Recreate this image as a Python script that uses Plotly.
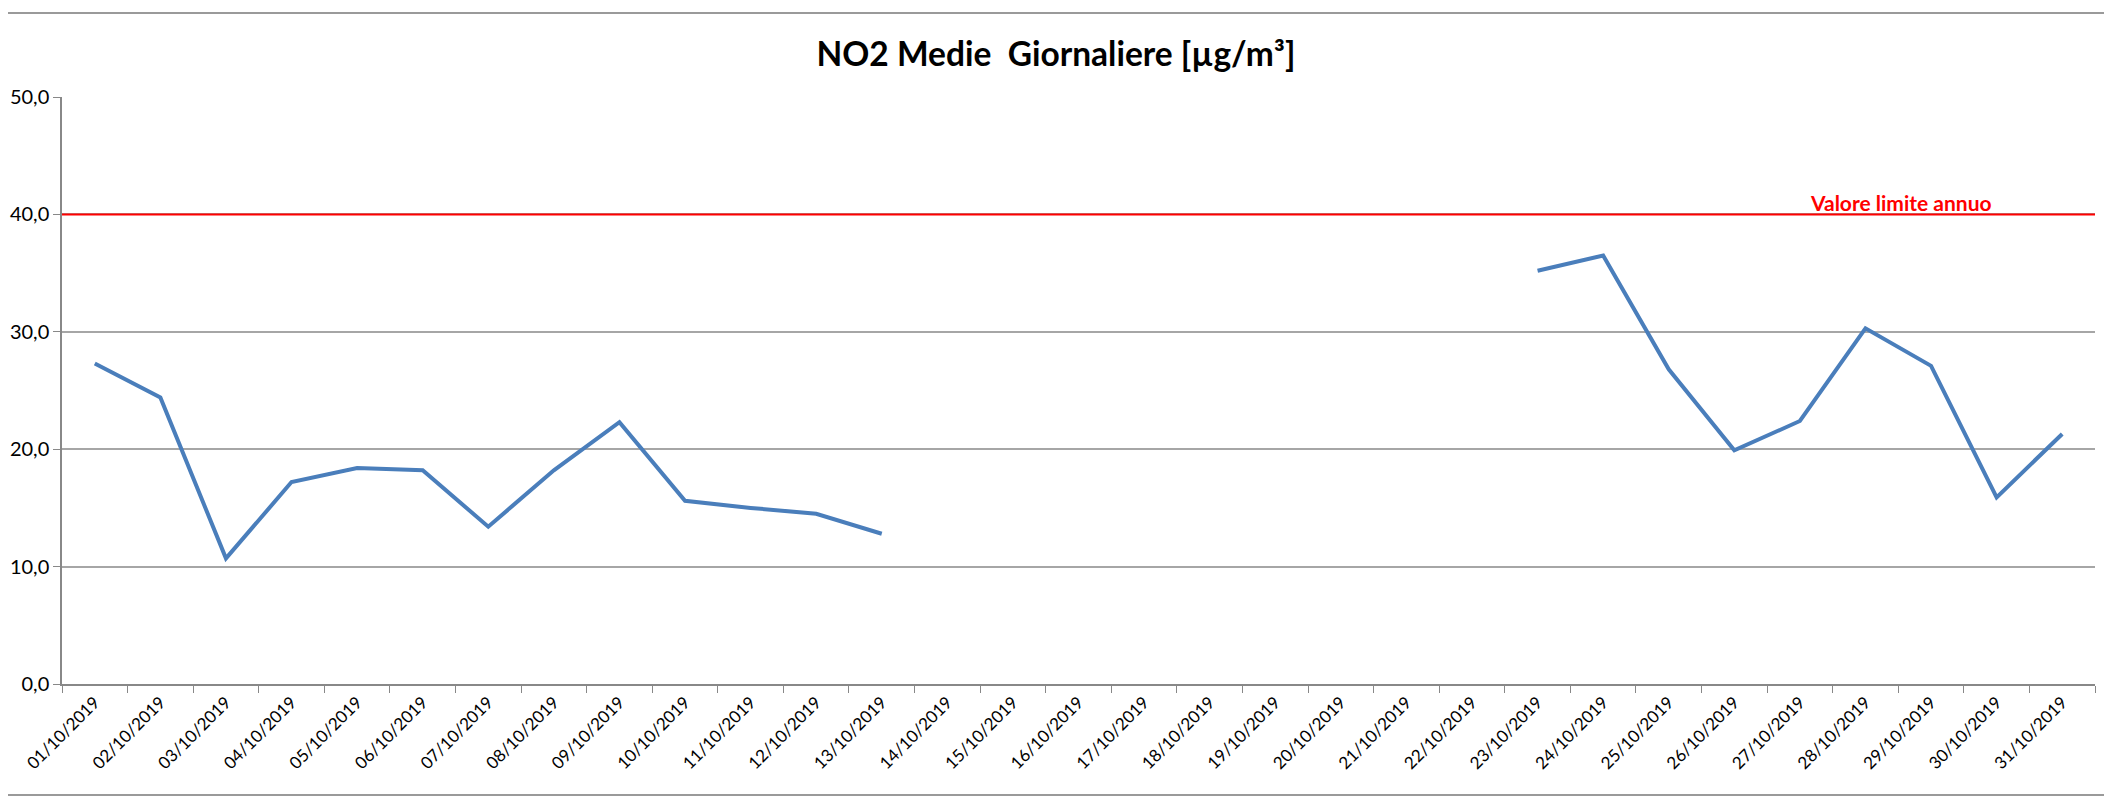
import plotly.graph_objects as go

dates = [f"{d:02d}/10/2019" for d in range(1, 32)]
no2 = [27.3, 24.4, 10.7, 17.2, 18.4, 18.2, 13.4, 18.2, 22.3, 15.6, 15.0, 14.5, 12.8,
       None, None, None, None, None, None, None, None, None,
       35.2, 36.5, 26.8, 19.9, 22.4, 30.3, 27.1, 15.9, 21.3]
limit_value = 40
limit_label = "Valore limite annuo"
title_text = "NO2 Medie  Giornaliere [µg/m³]"
y_ticks = [0, 10, 20, 30, 40, 50]

FONT = "Lato, Carlito, Calibri, sans-serif"

fig = go.Figure()
fig.add_trace(go.Scatter(
    x=dates, y=no2, mode="lines", connectgaps=False,
    line=dict(color="#4A7EBB", width=4), showlegend=False,
))

fig.add_shape(type="line", xref="paper", yref="y", x0=0, x1=1,
              y0=limit_value, y1=limit_value,
              line=dict(color="#FF0000", width=2))
fig.add_annotation(xref="paper", yref="y", x=0.9045, y=limit_value,
                   text=f"<b>{limit_label}</b>", showarrow=False,
                   yanchor="bottom", xanchor="center", yshift=-3,
                   font=dict(family=FONT, size=21, color="#FF0000"))

# chart frame lines (top & bottom)
for yy in (1.143, -0.189):
    fig.add_shape(type="line", xref="paper", yref="paper", x0=-0.05, x1=1.05,
                  y0=yy, y1=yy, line=dict(color="#9A9A9A", width=2))

# the page body has an 8px margin; offsets below compensate for it
fig.update_layout(
    width=2112, height=798,
    margin=dict(l=54, r=25, t=89, b=122),
    paper_bgcolor="white", plot_bgcolor="white",
    separators=",.",
    title=dict(text=f"<b>{title_text}</b>", x=(1056 - 8) / 2112, xanchor="center",
               y=1 - 46 / 798, yanchor="middle",
               font=dict(family=FONT, size=33.5, color="#000000")),
    font=dict(family=FONT, color="#000000"),
)
fig.update_xaxes(
    type="category", range=[-0.5, 30.5], tickangle=-45, automargin=False,
    tickson="boundaries", ticks="outside", ticklen=7, tickcolor="#888888",
    showline=True, linecolor="#888888", linewidth=1.5, showgrid=False,
    tickfont=dict(family=FONT, size=17, color="#000000"),
)
fig.update_yaxes(
    range=[0, 50], tickvals=y_ticks, tickformat=".1f", automargin=False,
    ticks="outside", ticklen=7, tickcolor="#888888",
    showline=True, linecolor="#888888", linewidth=1.5,
    showgrid=True, gridcolor="#A6A6A6", gridwidth=1.5, zeroline=False,
    tickfont=dict(family=FONT, size=20, color="#000000"),
)

fig.write_html("out.html")
